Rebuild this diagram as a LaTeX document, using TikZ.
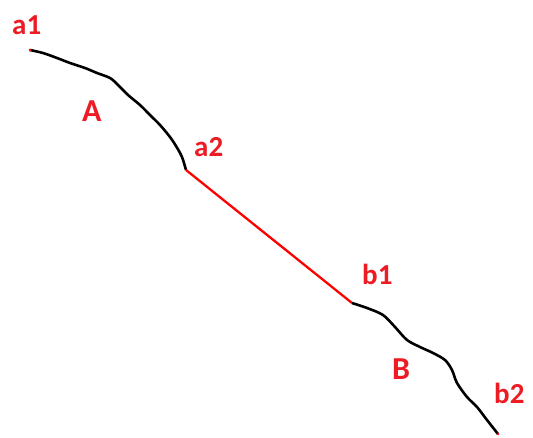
\documentclass[tikz,border=0pt]{standalone}
\usepackage{fontspec}
\setmainfont{Carlito}
\definecolor{lblred}{RGB}{237,28,36}
\tikzset{
  lbl/.style={text=lblred, font=\bfseries\fontsize{29}{31}\selectfont, inner sep=0pt, anchor=base west},
  biglbl/.style={lbl, font=\bfseries\fontsize{32}{34}\selectfont},
  blackcurve/.style={draw=black, line width=2.6pt, line join=round},
  redcurve/.style={draw=red, line width=2.3pt},
}
\begin{document}
\begin{tikzpicture}[x=1pt,y=-1pt]
\useasboundingbox[fill=white] (0,0) rectangle (533,438);
% key points
\coordinate (a1) at (30,50);
\coordinate (a2) at (186,170);
\coordinate (b1) at (352,303);
\coordinate (b2) at (498,434);
% curve A
\draw[blackcurve] plot[smooth, tension=0.5] coordinates {(30,50) (43,53) (57,58) (70,63) (85,68) (97,73) (110,78) (118,85) (128,95) (140,105) (150,115) (160,125) (170,137) (176,146) (182,157) (186,170)};
% straight red segment
\draw[redcurve] (a2) -- (b1);
% curve B
\draw[blackcurve] plot[smooth, tension=0.5] coordinates {(352,303) (367,308) (383,315) (395,327) (407,340) (420,347) (433,353) (445,360) (452,370) (457,383) (467,397) (477,407) (487,420) (498,434)};
% red end dots
\fill[red] (a1) circle (1.4);
\fill[red] (b2) circle (1.4);
% labels
\node[lbl] (la1) at (12,35) {a1};
\node[biglbl] (lA) at (82,122) {A};
\node[lbl] (la2) at (194,157) {a2};
\node[lbl] (lb1) at (362,285) {b1};
\node[biglbl] (lB) at (392,380) {B};
\node[lbl] (lb2) at (494,403) {b2};
\end{tikzpicture}
\end{document}
